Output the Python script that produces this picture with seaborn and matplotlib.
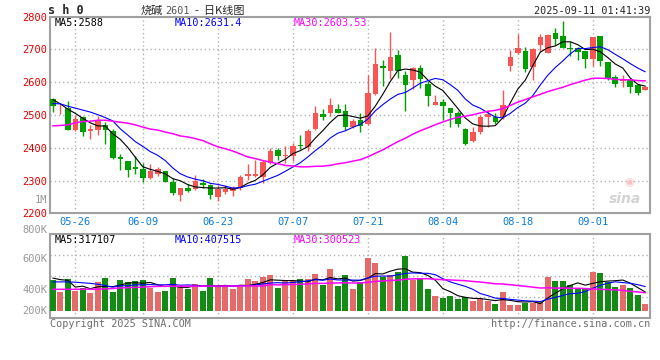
import numpy as np
import pandas as pd
import matplotlib
matplotlib.use("Agg")
import matplotlib.pyplot as plt
import matplotlib.transforms as mtransforms
import seaborn as sns

# daily bars of 烧碱2601
opens = [2549, 2529, 2521, 2455, 2494, 2452, 2454, 2471, 2451, 2371,
         2359, 2341, 2335, 2308, 2320, 2329, 2295, 2257, 2276, 2273,
         2293, 2285, 2249, 2266, 2269, 2276, 2313, 2314, 2310, 2353,
         2394, 2374, 2374, 2409, 2402, 2457, 2504, 2506, 2518, 2513,
         2462, 2485, 2473, 2565, 2651, 2634, 2682, 2623, 2606, 2642,
         2596, 2530, 2539, 2522, 2506, 2457, 2421, 2449, 2495, 2495,
         2494, 2650, 2688, 2695, 2648, 2713, 2690, 2749, 2742, 2703,
         2703, 2695, 2670, 2742, 2662, 2616, 2603, 2606, 2591, 2575]
highs = [2552, 2533, 2543, 2500, 2496, 2469, 2498, 2480, 2457, 2381,
         2359, 2374, 2355, 2349, 2342, 2329, 2308, 2278, 2289, 2318,
         2306, 2288, 2286, 2286, 2283, 2317, 2351, 2363, 2363, 2399,
         2399, 2406, 2416, 2440, 2457, 2527, 2518, 2552, 2535, 2535,
         2488, 2506, 2623, 2703, 2669, 2754, 2697, 2634, 2646, 2654,
         2603, 2562, 2550, 2522, 2513, 2459, 2462, 2500, 2516, 2506,
         2577, 2698, 2747, 2708, 2703, 2746, 2746, 2764, 2787, 2727,
         2708, 2695, 2739, 2742, 2662, 2623, 2621, 2606, 2596, 2590]
lows = [2510, 2504, 2455, 2450, 2437, 2427, 2440, 2411, 2365, 2333,
        2311, 2320, 2294, 2306, 2315, 2295, 2257, 2237, 2265, 2270,
        2276, 2245, 2238, 2258, 2252, 2272, 2303, 2312, 2292, 2350,
        2364, 2355, 2361, 2396, 2389, 2453, 2486, 2498, 2506, 2455,
        2460, 2447, 2470, 2562, 2588, 2611, 2613, 2513, 2578, 2583,
        2527, 2529, 2486, 2463, 2464, 2409, 2418, 2443, 2462, 2473,
        2489, 2634, 2686, 2630, 2606, 2693, 2688, 2713, 2703, 2680,
        2669, 2644, 2650, 2650, 2606, 2584, 2586, 2567, 2562, 2575]
closes = [2526, 2532, 2455, 2488, 2449, 2457, 2484, 2454, 2368, 2366,
          2333, 2335, 2308, 2329, 2334, 2297, 2261, 2276, 2269, 2300,
          2286, 2255, 2275, 2275, 2276, 2312, 2320, 2320, 2358, 2391,
          2376, 2379, 2406, 2404, 2452, 2506, 2493, 2532, 2507, 2462,
          2483, 2467, 2567, 2656, 2643, 2677, 2634, 2591, 2642, 2610,
          2557, 2539, 2527, 2506, 2472, 2411, 2448, 2495, 2503, 2480,
          2531, 2676, 2705, 2640, 2701, 2737, 2744, 2732, 2703, 2701,
          2693, 2670, 2737, 2664, 2613, 2594, 2609, 2584, 2568, 2585]
# volume in thousands of lots
volumes = [510, 318, 527, 329, 384, 302, 477, 549, 318, 510,
           477, 494, 510, 384, 318, 329, 549, 401, 374, 444,
           329, 549, 401, 411, 374, 411, 527, 494, 565, 592,
           384, 494, 494, 527, 527, 609, 428, 691, 411, 592,
           362, 483, 873, 790, 565, 592, 648, 906, 510, 527,
           362, 253, 220, 253, 197, 230, 165, 208, 165, 115,
           313, 99, 99, 142, 142, 154, 560, 494, 494, 428,
           362, 374, 642, 625, 483, 395, 428, 384, 263, 115]

# average values at the left edge (their earlier bars are not in the window)
ma5_head = [2547, 2534, 2518, 2505]
ma10_head = [2535, 2534, 2527, 2521, 2515, 2509, 2501, 2492, 2482]
ma30_head = [2467, 2468, 2470, 2476, 2480, 2481, 2484, 2484, 2481, 2478,
             2475, 2470, 2463, 2457, 2454, 2448, 2443, 2436, 2433, 2428,
             2422, 2412, 2403, 2397, 2390, 2381, 2372, 2367, 2361]
vol_ma5_head = [547, 521, 510, 399]
vol_ma10_head = [484, 484, 484, 479, 469, 460, 445, 426, 397]
vol_ma30_head = [362, 362, 362, 362, 363, 364, 365, 368, 375, 385,
                 390, 393, 398, 405, 410, 412, 413, 413, 414, 414,
                 415, 415, 415, 416, 416, 416, 417, 417, 417]

tick_dates = ["05-26", "06-09", "06-23", "07-07", "07-21", "08-04", "08-18", "09-01"]
price_ticks = [2200, 2300, 2400, 2500, 2600, 2700, 2800]
vol_tick_labels = ["800K", "600K", "400K", "200K"]

price_legend = ["MA5:2588", "MA10:2631.4", "MA30:2603.53"]
vol_legend = ["MA5:317107", "MA10:407515", "MA30:300523"]

# trading days (Dragon Boat holiday on 06-02)
dates = pd.bdate_range("2025-05-21", "2025-09-10").drop(pd.Timestamp("2025-06-02"))
date_labels = list(dates.strftime("%m-%d"))

UP, DOWN = "#fa5555", "#009f00"
MA_COLORS = ["black", "#0000ff", "#ff00ff"]
MA_WIDTHS = [0.8, 0.8, 1.1]
GRID = "#b4b4b4"
FRAME = "#a0a0a0"
MONO = "DejaVu Sans Mono"
CJK = "Noto Sans CJK SC"


def moving_avg(values, n, head):
    out = pd.Series(values, dtype=float).rolling(n).mean().to_numpy()
    out[:n - 1] = head
    return out


df = pd.DataFrame({"open": opens, "high": highs, "low": lows, "close": closes,
                   "vol": volumes, "date": date_labels})
df["idx"] = np.arange(len(df))
df["up"] = df["close"] >= df["open"]
df["color"] = np.where(df["up"], UP, DOWN)
ma_price = [moving_avg(closes, 5, ma5_head), moving_avg(closes, 10, ma10_head),
            moving_avg(closes, 30, ma30_head)]
ma_vol = [moving_avg(volumes, 5, vol_ma5_head), moving_avg(volumes, 10, vol_ma10_head),
          moving_avg(volumes, 30, vol_ma30_head)]
tick_idx = [date_labels.index(d) for d in tick_dates]

sns.set_style("white")
plt.rcParams["font.family"] = [MONO, CJK]

W, H = 660, 360
fig = plt.figure(figsize=(W / 100, H / 100), dpi=100)
ax1 = fig.add_axes([50 / W, 1 - 213.3 / H, 600 / W, 196.6 / H])
ax2 = fig.add_axes([50 / W, 1 - 318 / H, 600 / W, 84 / H])

# --- price panel ---
xlim = (-0.37, 79.63)
ax1.vlines(df["idx"], df["low"], df["high"], colors=df["color"], lw=1, zorder=3)
body = (df["close"] - df["open"]).abs().clip(lower=2.5)
ax1.bar(df["idx"], body, bottom=df[["open", "close"]].min(axis=1), width=0.74,
        color=df["color"], linewidth=0, zorder=4)
for ma, c, w in zip(ma_price, MA_COLORS, MA_WIDTHS):
    sns.lineplot(x=df["idx"], y=ma, ax=ax1, color=c, lw=w, zorder=5)
ax1.set_xlim(*xlim)
ax1.set_ylim(2200, 2800)
ax1.set_yticks(price_ticks, [str(p) for p in price_ticks])
ax1.set_xticks(tick_idx, tick_dates)
ax1.tick_params(axis="y", length=0, pad=2, labelsize=7.5, labelcolor="#e80000")
ax1.tick_params(axis="x", length=0, pad=2.5, labelsize=7.5, labelcolor="#0a7ddc")
for p in price_ticks[1:-1]:
    ax1.axhline(p, color=GRID, lw=1, ls=(0, (1, 2)), zorder=1)
for t in tick_idx:
    ax1.axvline(t, color=GRID, lw=1, ls=(0, (1, 2)), zorder=1)
ax1.set_xlabel("")
ax1.set_ylabel("")
ax1.text(-0.005, 2240, "1M", transform=mtransforms.blended_transform_factory(ax1.transAxes, ax1.transData),
         ha="right", va="center", fontsize=7.5, color="#999999")
for txt, c, xp in zip(price_legend, MA_COLORS, [55, 175, 294]):
    fig.text(xp / W, 1 - 23 / H, txt, color=c, fontsize=7.3, va="center", ha="left")
ax1.text(0.985, 0.075, "sina", transform=ax1.transAxes, ha="right", va="center",
         fontsize=10, style="italic", weight="bold", color="#d4d4d4", family="DejaVu Sans")
ax1.text(0.965, 0.16, "◉", transform=ax1.transAxes, ha="center", va="center",
         fontsize=8, color="#f2c4c4", family="DejaVu Sans")

# --- volume panel ---
sns.barplot(x=df["idx"], y=df["vol"], hue=df["color"], palette={UP: UP, DOWN: DOWN},
            dodge=False, native_scale=True, width=0.8, legend=False, errorbar=None,
            linewidth=0, ax=ax2, zorder=3)
for ma, c, w in zip(ma_vol, MA_COLORS, MA_WIDTHS):
    sns.lineplot(x=df["idx"], y=ma, ax=ax2, color=c, lw=w, zorder=5)
ax2.set_xlim(*xlim)
ax2.set_ylim(-110, 1272)
ax2.set_xticks([])
ax2.set_yticks([])
ax2.set_xlabel("")
ax2.set_ylabel("")
for frac in [0.25, 0.5, 0.75]:
    ax2.axhline(-110 + frac * 1382, color=GRID, lw=1, ls=(0, (1, 2)), zorder=1)
for t in tick_idx:
    ax2.axvline(t, color=GRID, lw=1, ls=(0, (1, 2)), zorder=1)
for lab, yp in zip(vol_tick_labels, [230, 259, 290, 311]):
    fig.text(47 / W, 1 - yp / H, lab, ha="right", va="center", fontsize=7.5, color="#999999")
for txt, c, xp in zip(vol_legend, MA_COLORS, [55, 175, 294]):
    fig.text(xp / W, 1 - 240 / H, txt, color=c, fontsize=7.3, va="center", ha="left")

for ax in (ax1, ax2):
    for s in ax.spines.values():
        s.set_color(FRAME)
        s.set_linewidth(1.5)
        s.set_visible(True)
    ax.set_facecolor("white")

# --- header and footer ---
fig.text(48 / W, 1 - 11 / H, "s h 0", fontsize=8.5, weight="bold", va="center", ha="left")
fig.text(141 / W, 1 - 11 / H, "烧碱", family=CJK, fontsize=8, va="center", ha="left")
fig.text(165 / W, 1 - 11 / H, "2601", fontsize=7.3, color="#555555", va="center", ha="left")
fig.text(195 / W, 1 - 11 / H, "-  日K线图", family=[CJK, MONO], fontsize=8, va="center", ha="left")
fig.text(650 / W, 1 - 11 / H, "2025-09-11 01:41:39", fontsize=7.3, va="center", ha="right")
fig.text(50 / W, 1 - 324 / H, "Copyright 2025 SINA.COM", fontsize=7.3, color="#6e6e6e",
         va="center", ha="left")
fig.text(650 / W, 1 - 324 / H, "http://finance.sina.com.cn", fontsize=7.3, color="#6e6e6e",
         va="center", ha="right")

fig.savefig("out.png", dpi=100, facecolor="white")
